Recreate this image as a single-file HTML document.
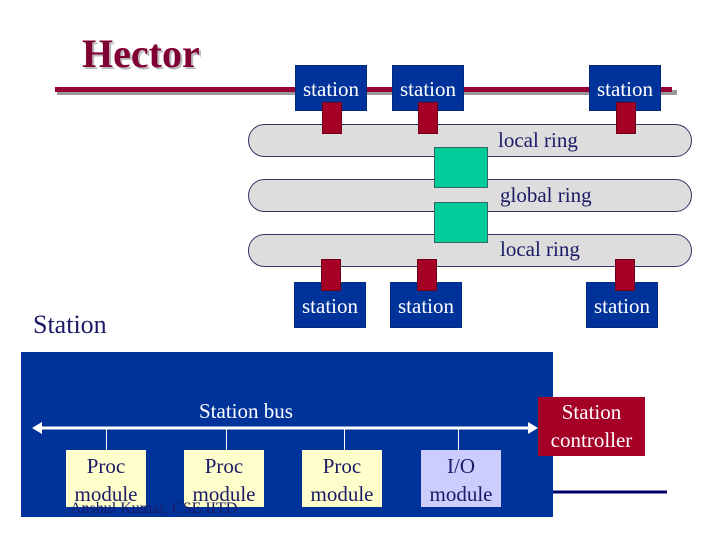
<!DOCTYPE html>
<html><head><meta charset="utf-8"><style>
body{margin:0;width:720px;height:540px;background:#fff;position:relative;overflow:hidden;font-family:"Liberation Serif",serif}
div{position:absolute;box-sizing:border-box}
.st{background:#003399;border:1px solid #002a80;color:#fff;font-size:21px;text-align:center;line-height:46px;width:72px;height:46px}
.stub{background:#a50026;border:1px solid #700018;width:20px;height:32px}
.ring{left:248px;width:444px;height:33px;background:#dddddd;border:1px solid #333366;border-radius:17px}
.lbl{color:#1a1a66;font-size:21px;white-space:nowrap}
.teal{background:#00cc99;border:1px solid #336666;left:434px;width:54px;height:41px}
.mod{background:#ffffcc;color:#1a1a66;font-size:21px;text-align:center;line-height:28px;width:80px;height:57px;top:450px;padding-top:2px}
.vl{width:1px;height:22px;background:#fff;top:429px}
</style></head><body>
<div style="left:82px;top:30px;font-size:40px;font-weight:bold;color:#800033;text-shadow:2px 2px 0 #bbb">Hector</div>
<div style="left:57px;top:90px;width:620px;height:5px;background:#999"></div>
<div style="left:55px;top:87px;width:617px;height:5px;background:#990033"></div>

<div class="ring" style="top:124px"></div>
<div class="ring" style="top:179px"></div>
<div class="ring" style="top:234px"></div>
<div class="lbl" style="left:498px;top:128px">local ring</div>
<div class="lbl" style="left:500px;top:183px">global ring</div>
<div class="lbl" style="left:500px;top:237px">local ring</div>
<div class="teal" style="top:147px"></div>
<div class="teal" style="top:202px"></div>

<div class="st" style="left:295px;top:65px">station</div>
<div class="st" style="left:392px;top:65px">station</div>
<div class="st" style="left:589px;top:65px">station</div>
<div class="stub" style="left:322px;top:102px"></div>
<div class="stub" style="left:418px;top:102px"></div>
<div class="stub" style="left:616px;top:102px"></div>

<div class="st" style="left:294px;top:282px">station</div>
<div class="st" style="left:390px;top:282px">station</div>
<div class="st" style="left:586px;top:282px">station</div>
<div class="stub" style="left:321px;top:259px"></div>
<div class="stub" style="left:417px;top:259px"></div>
<div class="stub" style="left:615px;top:259px"></div>

<div style="left:33px;top:310px;font-size:26px;color:#1a1a66">Station</div>

<div style="left:21px;top:352px;width:532px;height:165px;background:#003399"></div>
<div style="left:199px;top:399px;color:#fff;font-size:21px">Station bus</div>
<svg style="position:absolute;left:0;top:0" width="720" height="540">
<line x1="40" y1="428" x2="530" y2="428" stroke="#fff" stroke-width="3"/>
<polygon points="32,428 42,422 42,434" fill="#fff"/>
<polygon points="538,428 528,422 528,434" fill="#fff"/>
<line x1="553" y1="492" x2="667" y2="492" stroke="#000066" stroke-width="3"/>
</svg>
<div class="vl" style="left:106px"></div>
<div class="vl" style="left:226px"></div>
<div class="vl" style="left:344px"></div>
<div class="vl" style="left:458px"></div>
<div class="mod" style="left:66px">Proc<br>module</div>
<div class="mod" style="left:184px">Proc<br>module</div>
<div class="mod" style="left:302px">Proc<br>module</div>
<div class="mod" style="left:421px;background:#ccccff">I/O<br>module</div>
<div style="left:70px;top:500px;font-size:16px;color:#1a1a66;white-space:nowrap">Anshul Kumar, CSE IITD</div>
<div style="left:538px;top:397px;width:107px;height:59px;background:#a50026;color:#fff;font-size:21px;text-align:center;line-height:28px;padding-top:1px">Station<br>controller</div>
</body></html>
